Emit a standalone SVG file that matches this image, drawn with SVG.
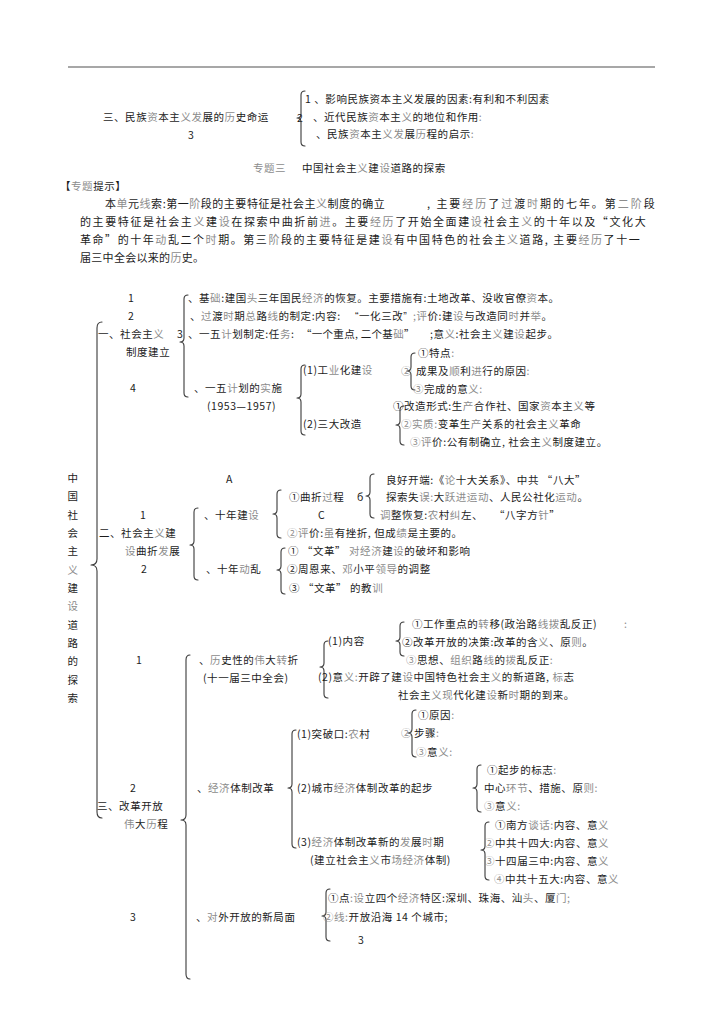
<svg xmlns="http://www.w3.org/2000/svg" width="720" height="1018" viewBox="0 0 720 1018">
<style>
text{font-family:"Noto Sans CJK SC","Liberation Sans",sans-serif;font-size:10.5px;fill:#1c1c1c;letter-spacing:0.55px}
.p{font-size:11px;letter-spacing:0.3px}
.g{fill:#8c8c8c}
.q{font-family:"Liberation Sans","Noto Sans CJK SC",sans-serif}
.v{text-anchor:middle}
.b{fill:none;stroke:#3a3a3a;stroke-width:1.1;stroke-linecap:round;stroke-linejoin:round}
</style>
<rect width="720" height="1018" fill="#ffffff"/>
<line x1="68" y1="67" x2="655" y2="67" stroke="#8a8a8a" stroke-width="1.6"/>

<g id="connectors">
<path class="b" d="M305,91 Q301,91 301,95 L301,114 Q301,118 297,118 Q301,118 301,122 L301,142 Q301,146 305,146"/>
<path class="b" d="M102,322 Q97,322 97,328 L97,559 Q97,565 91,565 Q97,565 97,571 L97,812 Q97,818 102,818"/>
<path class="b" d="M188,295 Q184,295 184,299 L184,338 Q184,342 180,342 Q184,342 184,346 L184,393 Q184,397 188,397"/>
<path class="b" d="M305,365 Q301,365 301,369 L301,394 Q301,398 297,398 Q301,398 301,402 L301,431 Q301,435 305,435"/>
<path class="b" d="M415,353 Q411,353 411,357 L411,367 Q411,371 407,371 Q411,371 411,375 L411,386 Q411,390 415,390"/>
<path class="b" d="M404,406 Q400,406 400,410 L400,421 Q400,425 396,425 Q400,425 400,429 L400,441 Q400,445 404,445"/>
<path class="b" d="M198,508 Q194,508 194,512 L194,541 Q194,545 190,545 Q194,545 194,549 L194,576 Q194,580 198,580"/>
<path class="b" d="M281,490 Q277,490 277,494 L277,510 Q277,514 273,514 Q277,514 277,518 L277,534 Q277,538 281,538"/>
<path class="b" d="M374,474 Q370,474 370,478 L370,492 Q370,496 366,496 Q370,496 370,500 L370,514 Q370,518 374,518"/>
<path class="b" d="M285,548 Q281,548 281,552 L281,566 Q281,570 277,570 Q281,570 281,574 L281,590 Q281,594 285,594"/>
<path class="b" d="M190,655 Q186,655 186,660 L186,815 Q186,820 181,820 Q186,820 186,825 L186,974 Q186,979 190,979"/>
<path class="b" d="M328,641 Q324,641 324,645 L324,663 Q324,667 320,667 Q324,667 324,671 L324,694 Q324,698 328,698"/>
<path class="b" d="M404,622 Q400,622 400,626 L400,637 Q400,641 396,641 Q400,641 400,645 L400,652 Q400,656 404,656"/>
<path class="b" d="M296,730 Q292,730 292,734 L292,784 Q292,788 288,788 Q292,788 292,792 L292,844 Q292,848 296,848"/>
<path class="b" d="M416,710 Q412,710 412,714 L412,729 Q412,733 408,733 Q412,733 412,737 L412,753 Q412,757 416,757"/>
<path class="b" d="M481,765 Q477,765 477,769 L477,784 Q477,788 473,788 Q477,788 477,792 L477,808 Q477,812 481,812"/>
<path class="b" d="M489,822 Q485,822 485,826 L485,846 Q485,850 481,850 Q485,850 485,854 L485,876 Q485,880 489,880"/>
<path class="b" d="M330,889 Q326,889 326,893 L326,912 Q326,916 322,916 Q326,916 326,920 L326,937 Q326,941 330,941"/>
</g>

<g id="node-top">
<text x="305" y="103">1 、影响民族资本主义发展的因素:有利和不利因素</text>
<text x="103" y="121">三、民族<tspan class="g">资</tspan>本主<tspan class="g">义发</tspan>展的<tspan class="g">历</tspan>史命运</text>
<text x="297" y="122">2</text>
<text x="313" y="121">、近代民族<tspan class="g">资</tspan>本主<tspan class="g">义</tspan>的地位和作用<tspan class="g">:</tspan></text>
<text x="188" y="139">3</text>
<text x="316" y="138">、民族<tspan class="g">资</tspan>本主<tspan class="g">义发</tspan>展<tspan class="g">历</tspan>程的启示<tspan class="g">:</tspan></text>
</g>

<g id="node-intro">
<text x="253" y="172" class="g">专题三</text>
<text x="302" y="172">中国社会主<tspan class="g">义</tspan>建<tspan class="g">设</tspan>道路的探索</text>
<text x="60" y="190">【<tspan class="g">专题</tspan>提示】</text>
<text class="p" x="105" y="208" textLength="280" lengthAdjust="spacing">本<tspan class="g">单</tspan>元<tspan class="g">线</tspan>索:第一<tspan class="g">阶</tspan>段的主要特征是社会主<tspan class="g">义</tspan>制度的确立</text>
<text class="p" x="427" y="208" textLength="228" lengthAdjust="spacing">, 主要<tspan class="g">经历</tspan>了<tspan class="g">过</tspan>渡<tspan class="g">时</tspan>期的七年。第<tspan class="g">二阶</tspan>段</text>
<text class="p" x="80" y="226" textLength="566" lengthAdjust="spacing">的主要特征是社会主<tspan class="g">义</tspan>建<tspan class="g">设</tspan>在探索中曲折前<tspan class="g">进</tspan>。主要<tspan class="g">经历</tspan>了开始全面建<tspan class="g">设</tspan>社会主<tspan class="g">义</tspan>的十年以及“文化大</text>
<text class="p" x="80" y="244" textLength="560" lengthAdjust="spacing">革命”的十年<tspan class="g">动</tspan>乱二个<tspan class="g">时</tspan>期。第三<tspan class="g">阶</tspan>段的主要特征是建<tspan class="g">设</tspan>有中国特色的社会主<tspan class="g">义</tspan>道路, 主要<tspan class="g">经历</tspan>了十一</text>
<text class="p" x="80" y="262">届三中全会以来的<tspan class="g">历</tspan>史。</text>
</g>

<g id="node-root">
<text class="v" x="73" y="482">中</text>
<text class="v" x="73" y="500">国</text>
<text class="v" x="73" y="519">社</text>
<text class="v" x="73" y="537">会</text>
<text class="v" x="73" y="555">主</text>
<text class="v g" x="73" y="574">义</text>
<text class="v" x="73" y="592">建</text>
<text class="v g" x="73" y="610">设</text>
<text class="v" x="73" y="629">道</text>
<text class="v" x="73" y="647">路</text>
<text class="v" x="73" y="665">的</text>
<text class="v" x="73" y="684">探</text>
<text class="v" x="73" y="702">索</text>
</g>

<g id="node-s1">
<text x="98" y="338">一、社会主<tspan class="g">义</tspan></text>
<text x="126" y="356">制度建立</text>
<text x="128" y="302">1</text>
<text x="188" y="302">、基<tspan class="g">础</tspan>:建国<tspan class="g">头</tspan>三年国民<tspan class="g">经济</tspan>的恢复。主要措施有:土地改革、没收官僚<tspan class="g">资</tspan>本。</text>
<text x="128" y="320">2</text>
<text x="190" y="320">、<tspan class="g">过</tspan>渡<tspan class="g">时</tspan>期<tspan class="g">总</tspan>路<tspan class="g">线</tspan>的制定:内容:</text>
<text x="355" y="320"><tspan class="q">“</tspan>一化三改<tspan class="q">”</tspan></text>
<text x="413" y="320"><tspan class="g">;评</tspan>价:建<tspan class="g">设</tspan>与改造同<tspan class="g">时</tspan>并<tspan class="g">举</tspan>。</text>
<text x="177" y="338">3</text>
<text x="188" y="338">、一五<tspan class="g">计</tspan>划制定:任<tspan class="g">务</tspan>:</text>
<text x="301" y="338" textLength="114" lengthAdjust="spacing">“一个重点, 二个基<tspan class="g">础</tspan>”</text>
<text x="430" y="338">;意<tspan class="g">义</tspan>:社会主<tspan class="g">义</tspan>建<tspan class="g">设</tspan>起步。</text>
<text x="130" y="392">4</text>
<text x="194" y="392">、一五<tspan class="g">计</tspan>划的<tspan class="g">实</tspan>施</text>
<text x="207" y="410">(1953—1957)</text>
<text x="303" y="374">(1)工<tspan class="g">业</tspan>化建<tspan class="g">设</tspan></text>
<text x="303" y="428">(2)三大改造</text>
<text x="418" y="357">①特点<tspan class="g">:</tspan></text>
<text x="401" y="375" class="g">②</text>
<text x="416" y="375">成果及<tspan class="g">顺</tspan>利<tspan class="g">进</tspan>行的原因<tspan class="g">:</tspan></text>
<text x="413" y="393"><tspan class="g">③</tspan>完成的意<tspan class="g">义:</tspan></text>
<text x="393" y="410">①改造形式:生<tspan class="g">产</tspan>合作社、国家<tspan class="g">资</tspan>本主<tspan class="g">义</tspan>等</text>
<text x="401" y="428"><tspan class="g">②实质:</tspan>变革生<tspan class="g">产</tspan>关系的社会主<tspan class="g">义</tspan>革命</text>
<text x="410" y="446"><tspan class="g">③评</tspan>价:公有制确立, 社会主<tspan class="g">义</tspan>制度建立。</text>
</g>

<g id="node-s2">
<text x="226" y="483">A</text>
<text x="140" y="519">1</text>
<text x="204" y="519">、十年建<tspan class="g">设</tspan></text>
<text x="99" y="537">二、社会主<tspan class="g">义</tspan>建</text>
<text x="125" y="555"><tspan class="g">设</tspan>曲折<tspan class="g">发</tspan>展</text>
<text x="141" y="573">2</text>
<text x="206" y="573">、十年<tspan class="g">动</tspan>乱</text>
<text x="289" y="501">①曲折<tspan class="g">过</tspan>程</text>
<text x="357" y="501">б</text>
<text x="318" y="519">C</text>
<text x="287" y="537"><tspan class="g">②评</tspan>价:<tspan class="g">虽</tspan>有挫折, 但成<tspan class="g">绩</tspan>是主要的。</text>
<text x="386" y="484">良好开端:《<tspan class="g">论</tspan>十大关系》、中共 “八大”</text>
<text x="386" y="501">探索失<tspan class="g">误:</tspan>大<tspan class="g">跃进运动</tspan>、人民公社化<tspan class="g">运动</tspan>。</text>
<text x="380" y="519"><tspan class="g">调</tspan>整恢复:<tspan class="g">农</tspan>村<tspan class="g">纠</tspan>左、</text>
<text x="494" y="519">“八字方<tspan class="g">针</tspan>”</text>
<text x="288" y="555">① “文革” <tspan class="g">对经济</tspan>建<tspan class="g">设</tspan>的破坏和影响</text>
<text x="287" y="573">②周恩来、<tspan class="g">邓</tspan>小平<tspan class="g">领导</tspan>的调整</text>
<text x="289" y="592">③ “文革” 的教<tspan class="g">训</tspan></text>
</g>

<g id="node-s3">
<text x="130" y="792">2</text>
<text x="97" y="810">三、改革开放</text>
<text x="124" y="828"><tspan class="g">伟</tspan>大<tspan class="g">历</tspan>程</text>
<text x="136" y="664">1</text>
<text x="199" y="664">、<tspan class="g">历</tspan>史性的<tspan class="g">伟</tspan>大<tspan class="g">转</tspan>折</text>
<text x="203" y="682">(十一届三中全会)</text>
<text x="328" y="645">(1)内容</text>
<text x="318" y="681">(2)意<tspan class="g">义:</tspan>开辟了建<tspan class="g">设</tspan>中国特色社会主<tspan class="g">义</tspan>的新道路, <tspan class="g">标</tspan>志</text>
<text x="398" y="699">社会主<tspan class="g">义现</tspan>代化建<tspan class="g">设</tspan>新<tspan class="g">时</tspan>期的到来。</text>
<text x="412" y="628">①工作重点的<tspan class="g">转</tspan>移(政治路<tspan class="g">线拨</tspan>乱反正)</text>
<text x="624" y="628" class="g">:</text>
<text x="402" y="646">②改革开放的决策:改革的含<tspan class="g">义</tspan>、原<tspan class="g">则</tspan>。</text>
<text x="406" y="664"><tspan class="g">③</tspan>思想、<tspan class="g">组织</tspan>路<tspan class="g">线</tspan>的<tspan class="g">拨</tspan>乱反正<tspan class="g">:</tspan></text>
<text x="197" y="792">、<tspan class="g">经济</tspan>体制改革</text>
<text x="297" y="738">(1)突破口:<tspan class="g">农</tspan>村</text>
<text x="297" y="792">(2)城市<tspan class="g">经济</tspan>体制改革的起步</text>
<text x="297" y="846">(3)<tspan class="g">经济</tspan>体制改革新的<tspan class="g">发</tspan>展<tspan class="g">时</tspan>期</text>
<text x="310" y="864">(建立社会主<tspan class="g">义</tspan>市<tspan class="g">场经济</tspan>体制)</text>
<text x="418" y="719">①原因<tspan class="g">:</tspan></text>
<text x="401" y="737" class="g">②</text>
<text x="414" y="737">步骤<tspan class="g">:</tspan></text>
<text x="416" y="756"><tspan class="g">③</tspan>意<tspan class="g">义:</tspan></text>
<text x="487" y="774">①起步的标志<tspan class="g">:</tspan></text>
<text x="484" y="792">中心<tspan class="g">环节</tspan>、措施、原<tspan class="g">则:</tspan></text>
<text x="484" y="810"><tspan class="g">③</tspan>意<tspan class="g">义:</tspan></text>
<text x="495" y="829">①南方<tspan class="g">谈话:</tspan>内容、意<tspan class="g">义</tspan></text>
<text x="484" y="847"><tspan class="g">②</tspan>中共十四大:内容、意<tspan class="g">义</tspan></text>
<text x="484" y="865"><tspan class="g">③</tspan>十四届三中:内容、意<tspan class="g">义</tspan></text>
<text x="494" y="883"><tspan class="g">④</tspan>中共十五大:内容、意<tspan class="g">义</tspan></text>
<text x="130" y="921">3</text>
<text x="196" y="921">、<tspan class="g">对</tspan>外开放的新局面</text>
<text x="328" y="902">①点<tspan class="g">:设</tspan>立四个<tspan class="g">经济</tspan>特区:深圳、珠海、汕<tspan class="g">头</tspan>、厦<tspan class="g">门;</tspan></text>
<text x="323" y="921"><tspan class="g">②线:</tspan>开放沿海  14 个城市;</text>
<text x="358" y="944">3</text>
</g>
</svg>
